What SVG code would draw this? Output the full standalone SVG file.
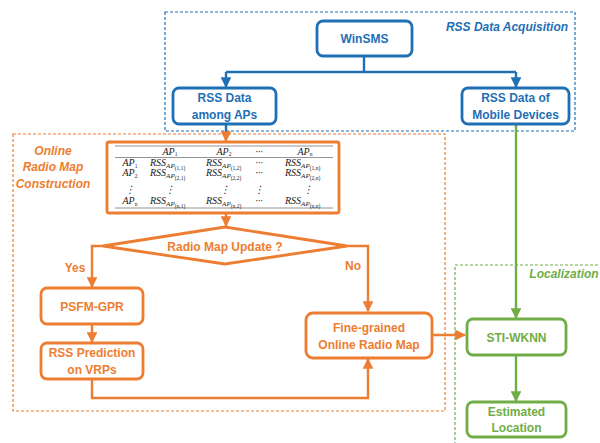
<svg xmlns="http://www.w3.org/2000/svg" width="600" height="443" viewBox="0 0 600 443">
<defs>
<marker id="ab" viewBox="0 0 10 10" refX="9" refY="5" markerWidth="4.5" markerHeight="4.5" markerUnits="strokeWidth" orient="auto"><path d="M0,0 L10,5 L0,10 z" fill="#1F6FB5"/></marker>
<marker id="ao" viewBox="0 0 10 10" refX="9" refY="5" markerWidth="4.5" markerHeight="4.5" markerUnits="strokeWidth" orient="auto"><path d="M0,0 L10,5 L0,10 z" fill="#ED7D31"/></marker>
<marker id="ag" viewBox="0 0 10 10" refX="9" refY="5" markerWidth="4.5" markerHeight="4.5" markerUnits="strokeWidth" orient="auto"><path d="M0,0 L10,5 L0,10 z" fill="#70AD47"/></marker>
</defs>
<style>
text{font-family:"Liberation Sans",Arial,sans-serif;font-weight:bold;font-size:12px;text-anchor:middle}
.b{fill:#1F6FB5}.o{fill:#ED7D31}.g{fill:#70AD47}
.it{font-style:italic}
.bx{fill:#fff;stroke-width:2.8}
.bb{stroke:#1F6FB5}.ob{stroke:#ED7D31}.gb{stroke:#70AD47}
.dash{fill:none;stroke-width:1.2;stroke-dasharray:3 2}
.ln{fill:none;stroke-width:2.4}
.m{font-family:"Liberation Serif","Times New Roman",serif;font-weight:normal;font-style:italic;font-size:10px;fill:#222}
.m.st{text-anchor:start}
.m tspan.s{font-size:7px}
.m tspan.ss{font-size:5.5px;font-style:normal}
.rule{stroke:#777;stroke-width:0.8}
</style>
<rect width="600" height="443" fill="#fff"/>
<g id="regions">
<rect class="dash bb" x="165" y="12" width="410" height="119"/>
<text class="b it" x="507" y="31">RSS Data Acquisition</text>
<rect class="dash ob" x="13" y="134" width="432" height="277"/>
<text class="o it" x="53" y="155" font-size="13">Online</text>
<text class="o it" x="53" y="171" font-size="13">Radio Map</text>
<text class="o it" x="53" y="188" font-size="13">Construction</text>
<rect class="dash gb" x="455" y="265" width="160" height="190"/>
<text class="g it" x="564" y="278">Localization</text>
</g>
<g id="connectors">
<path class="ln bb" d="M364,56 V72 M226,72 H516" />
<path class="ln bb" d="M226,72 V87" marker-end="url(#ab)"/>
<path class="ln bb" d="M516,72 V87" marker-end="url(#ab)"/>
<path class="ln bb" d="M226,124 V132"/>
<path class="ln ob" d="M226,132 V141" marker-end="url(#ao)"/>
<path class="ln ob" d="M226,213 V226" marker-end="url(#ao)"/>
<path class="ln ob" d="M103,246 H92 V287" marker-end="url(#ao)"/>
<path class="ln ob" d="M347,246 H368 V311" marker-end="url(#ao)"/>
<path class="ln ob" d="M92,324 V342" marker-end="url(#ao)"/>
<path class="ln ob" d="M92,379 V398 H368 V359" marker-end="url(#ao)"/>
<path class="ln ob" d="M432,335 H465" marker-end="url(#ao)"/>
<path class="ln gb" d="M516,124 V318" marker-end="url(#ag)"/>
<path class="ln gb" d="M516,355 V401" marker-end="url(#ag)"/>
</g>
<g id="winsms"><rect class="bx bb" x="317" y="21" width="95" height="35" rx="6"/><text class="b" x="364.5" y="43">WinSMS</text></g>
<g id="rss-aps"><rect class="bx bb" x="173" y="88" width="103" height="36" rx="6"/><text class="b" x="224.5" y="102">RSS Data</text><text class="b" x="224.5" y="119">among APs</text></g>
<g id="rss-mobile"><rect class="bx bb" x="462" y="88" width="107" height="36" rx="6"/><text class="b" x="515.5" y="102">RSS Data of</text><text class="b" x="515.5" y="119">Mobile Devices</text></g>
<g id="table">
<rect class="bx ob" x="107" y="142" width="232" height="71" rx="2"/>
<line class="rule" x1="115" y1="146" x2="333" y2="146"/>
<line class="rule" x1="115" y1="157.5" x2="333" y2="157.5"/>
<line class="rule" x1="115" y1="208" x2="333" y2="208"/>
<text class="m" x="170" y="154.5">AP<tspan class="ss" dy="1.5">1</tspan></text>
<text class="m" x="224" y="154.5">AP<tspan class="ss" dy="1.5">2</tspan></text>
<text class="m" x="259" y="154.5" font-style="normal">···</text>
<text class="m" x="305" y="154.5">AP<tspan class="ss" dy="1.5">n</tspan></text>
<text class="m" x="130" y="166">AP<tspan class="ss" dy="1.5">1</tspan></text>
<text class="m" x="130" y="176">AP<tspan class="ss" dy="1.5">2</tspan></text>
<text class="m" x="130" y="193" font-style="normal">⋮</text>
<text class="m" x="130" y="204">AP<tspan class="ss" dy="1.5">n</tspan></text>
<text class="m st" x="150" y="166">RSS<tspan class="s" dy="2">AP</tspan><tspan class="ss" dy="1.5">(1,1)</tspan></text>
<text class="m st" x="206" y="166">RSS<tspan class="s" dy="2">AP</tspan><tspan class="ss" dy="1.5">(1,2)</tspan></text>
<text class="m" x="259" y="166" font-style="normal">···</text>
<text class="m st" x="285" y="166">RSS<tspan class="s" dy="2">AP</tspan><tspan class="ss" dy="1.5">(1,n)</tspan></text>
<text class="m st" x="150" y="176">RSS<tspan class="s" dy="2">AP</tspan><tspan class="ss" dy="1.5">(2,1)</tspan></text>
<text class="m st" x="206" y="176">RSS<tspan class="s" dy="2">AP</tspan><tspan class="ss" dy="1.5">(2,2)</tspan></text>
<text class="m" x="259" y="176" font-style="normal">···</text>
<text class="m st" x="285" y="176">RSS<tspan class="s" dy="2">AP</tspan><tspan class="ss" dy="1.5">(2,n)</tspan></text>
<text class="m" x="170" y="193" font-style="normal">⋮</text>
<text class="m" x="225" y="193" font-style="normal">⋮</text>
<text class="m" x="259" y="193" font-style="normal">⋮</text>
<text class="m" x="308" y="193" font-style="normal">⋮</text>
<text class="m st" x="150" y="204">RSS<tspan class="s" dy="2">AP</tspan><tspan class="ss" dy="1.5">(n,1)</tspan></text>
<text class="m st" x="206" y="204">RSS<tspan class="s" dy="2">AP</tspan><tspan class="ss" dy="1.5">(n,2)</tspan></text>
<text class="m" x="259" y="204" font-style="normal">···</text>
<text class="m st" x="285" y="204">RSS<tspan class="s" dy="2">AP</tspan><tspan class="ss" dy="1.5">(n,n)</tspan></text>
</g>
<g id="decision"><polygon class="bx ob" points="225,227 347,246 225,264 103,246"/><text class="o" x="225" y="250.5">Radio Map Update ?</text></g>
<g id="labels"><text class="o" x="75" y="272">Yes</text><text class="o" x="353" y="270">No</text></g>
<g id="psfm"><rect class="bx ob" x="41" y="288" width="102" height="36" rx="6"/><text class="o" x="92" y="310.5">PSFM-GPR</text></g>
<g id="prediction"><rect class="bx ob" x="41" y="343" width="102" height="36" rx="6"/><text class="o" x="92" y="357">RSS Prediction</text><text class="o" x="92" y="374">on VRPs</text></g>
<g id="finemap"><rect class="bx ob" x="306" y="313" width="126" height="45" rx="7"/><text class="o" x="369" y="332">Fine-grained</text><text class="o" x="369" y="349">Online Radio Map</text></g>
<g id="stiwknn"><rect class="bx gb" x="467" y="319" width="99" height="36" rx="6"/><text class="g" x="516.5" y="341.5">STI-WKNN</text></g>
<g id="estimated"><rect class="bx gb" x="467" y="402" width="99" height="35" rx="6"/><text class="g" x="516.5" y="416">Estimated</text><text class="g" x="516.5" y="432">Location</text></g>
</svg>
